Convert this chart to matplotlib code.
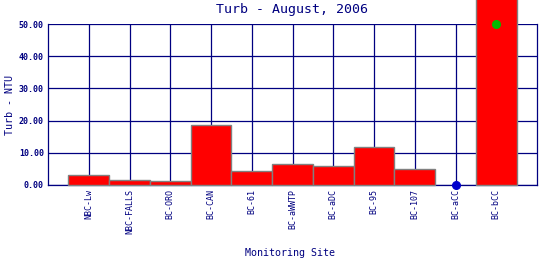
import matplotlib
matplotlib.use("Agg")
import matplotlib.pyplot as plt
import numpy as np

sites = ['NBC-Lw', 'NBC-FALLS', 'BC-ORO', 'BC-CAN', 'BC-61', 'BC-aWWTP',
         'BC-aDC', 'BC-95', 'BC-107', 'BC-aCC', 'BC-bCC']
turb = [3.1, 1.45, 1.15, 18.5, 4.25, 6.4, 5.8, 11.8, 4.9, 0.0, 100.0]
# marker points drawn on top of bars
blue_site = 'BC-aCC'
blue_val = 0.0
green_site = 'BC-bCC'
green_val = 50.0

navy = '#000080'
mono = 'DejaVu Sans Mono'

fig = plt.figure(figsize=(5.4, 2.6), dpi=100)
ax = fig.add_axes([48/540, 75/260, 489/540, 161/260])

x = np.arange(len(sites))
edges = ['#808080' if v > 0 else 'none' for v in turb]
ax.bar(x, turb, width=1.0, color='#ff0000', edgecolor=edges,
       linewidth=1.0, zorder=3, clip_on=False)
ax.plot(sites.index(blue_site), blue_val, 'o', color='#0000cc', ms=5.5, zorder=5, clip_on=False)
ax.plot(sites.index(green_site), green_val, 'o', color='#00bb00', ms=5.5, zorder=5, clip_on=False)

ax.set_xlim(-1, len(sites))
ax.set_ylim(0, 50)
ax.set_xticks(x)
ax.set_xticklabels(sites, rotation=90, fontsize=6, family=mono, color=navy)
ax.set_yticks(np.arange(0, 51, 10))
ax.set_yticklabels(['%.2f' % v for v in np.arange(0, 51, 10)],
                   fontsize=6, family=mono, color=navy, fontweight='bold')
ax.tick_params(length=0, pad=3)
ax.grid(True, color=navy, linewidth=0.9, zorder=1)
ax.set_axisbelow(True)
for s in ['left', 'bottom', 'right']:
    ax.spines[s].set_color(navy)
    ax.spines[s].set_linewidth(0.9)
ax.spines['top'].set_visible(False)

fig.text(0.54, 0.965, 'Turb - August, 2006', ha='center', va='center',
         fontsize=9.5, family=mono, color=navy)
fig.text(0.018, 0.598, 'Turb - NTU', rotation=90, ha='center', va='center',
         fontsize=7.2, family=mono, color=navy)
fig.text(0.537, 0.025, 'Monitoring Site', ha='center', va='center',
         fontsize=7.2, family=mono, color=navy)

fig.savefig('out.png', dpi=100)
